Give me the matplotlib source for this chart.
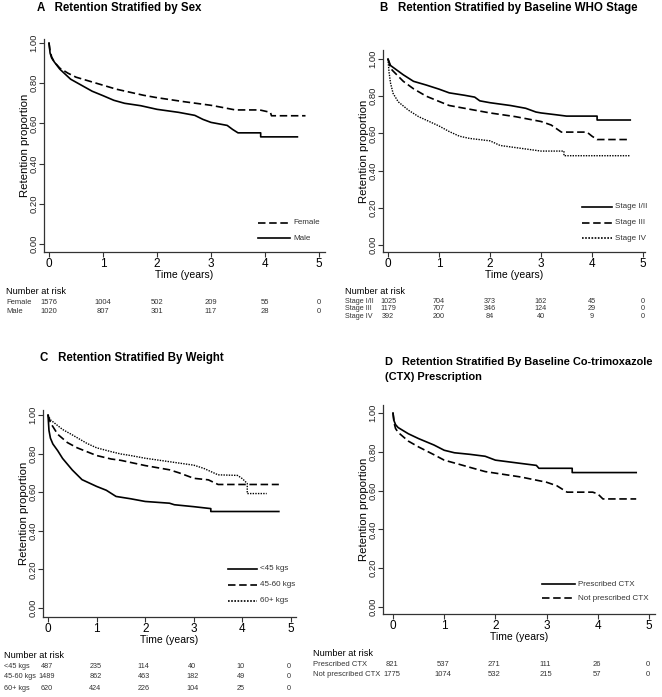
import matplotlib
matplotlib.use("Agg")
import matplotlib.pyplot as plt
import logging

logging.getLogger("matplotlib.font_manager").setLevel(logging.ERROR)

W, H = 662, 697

SMALL_FONT = ["Liberation Sans Narrow", "Liberation Sans", "DejaVu Sans"]
BOLD_FONT = ["Liberation Sans", "DejaVu Sans"]

# ── Data ──────────────────────────────────────────────────────────────
years = [0, 1, 2, 3, 4, 5]
yticks = [0.0, 0.2, 0.4, 0.6, 0.8, 1.0]

# A: sex
female_t = [0, 0.02, 0.05, 0.1, 0.2, 0.35, 0.5, 0.75, 1.0, 1.25, 1.5, 1.75, 2.0, 2.5, 3.0, 3.2, 3.45, 3.9, 4.1, 4.12, 4.75]
female_s = [1.0, 0.96, 0.93, 0.905, 0.875, 0.85, 0.83, 0.81, 0.79, 0.77, 0.755, 0.74, 0.728, 0.708, 0.69, 0.68, 0.667, 0.667, 0.655, 0.638, 0.638]
male_t = [0, 0.02, 0.05, 0.1, 0.2, 0.3, 0.4, 0.5, 0.6, 0.8, 1.0, 1.2, 1.4, 1.7, 2.0, 2.4, 2.7, 2.85, 3.0, 3.3, 3.4, 3.5, 3.92, 3.92, 4.6]
male_s = [1.0, 0.95, 0.925, 0.905, 0.87, 0.845, 0.82, 0.805, 0.79, 0.76, 0.738, 0.715, 0.70, 0.688, 0.67, 0.655, 0.64, 0.62, 0.605, 0.59, 0.57, 0.553, 0.553, 0.533, 0.533]
sex_risk_labels = ["Female", "Male"]
sex_risk = [[1576, 1004, 502, 209, 55, 0],
            [1020, 807, 301, 117, 28, 0]]

# B: WHO stage
st12_t = [0, 0.05, 0.1, 0.3, 0.5, 0.75, 1.0, 1.2, 1.5, 1.7, 1.8, 2.0, 2.4, 2.7, 2.9, 3.0, 3.3, 3.5, 4.1, 4.1, 4.75]
st12_s = [1.0, 0.965, 0.955, 0.915, 0.88, 0.86, 0.838, 0.818, 0.805, 0.795, 0.775, 0.765, 0.75, 0.735, 0.715, 0.71, 0.70, 0.693, 0.693, 0.672, 0.672]
st3_t = [0, 0.05, 0.1, 0.3, 0.5, 0.75, 1.0, 1.2, 1.5, 2.0, 2.5, 3.0, 3.2, 3.4, 3.9, 4.0, 4.1, 4.7]
st3_s = [1.0, 0.95, 0.935, 0.88, 0.84, 0.80, 0.772, 0.75, 0.735, 0.71, 0.69, 0.664, 0.645, 0.607, 0.607, 0.585, 0.567, 0.567]
st4_t = [0, 0.02, 0.05, 0.1, 0.2, 0.4, 0.6, 0.8, 1.0, 1.2, 1.4, 1.6, 2.0, 2.2, 2.6, 3.0, 3.45, 3.45, 4.75]
st4_s = [1.0, 0.93, 0.87, 0.815, 0.77, 0.725, 0.69, 0.665, 0.64, 0.61, 0.585, 0.573, 0.56, 0.535, 0.52, 0.505, 0.505, 0.48, 0.48]
stage_risk_labels = ["Stage I/II", "Stage III", "Stage IV"]
stage_risk = [[1025, 704, 373, 162, 45, 0],
              [1179, 707, 346, 124, 29, 0],
              [392, 200, 84, 40, 9, 0]]

# C: weight
w45_t = [0, 0.02, 0.05, 0.1, 0.2, 0.3, 0.5, 0.7, 1.0, 1.2, 1.4, 1.7, 2.0, 2.5, 2.6, 3.0, 3.35, 3.35, 4.75]
w45_s = [1.0, 0.92, 0.88, 0.85, 0.815, 0.775, 0.715, 0.665, 0.63, 0.61, 0.578, 0.566, 0.552, 0.543, 0.535, 0.525, 0.515, 0.50, 0.50]
w4560_t = [0, 0.05, 0.1, 0.2, 0.4, 0.6, 0.8, 1.0, 1.3, 1.5, 2.0, 2.5, 2.7, 3.0, 3.3, 3.5, 4.75]
w4560_s = [1.0, 0.96, 0.94, 0.90, 0.857, 0.83, 0.81, 0.79, 0.772, 0.765, 0.738, 0.716, 0.70, 0.672, 0.664, 0.64, 0.64]
w60_t = [0, 0.05, 0.1, 0.3, 0.5, 0.8, 1.0, 1.3, 1.5, 1.7, 2.0, 2.5, 3.0, 3.2, 3.5, 3.9, 4.0, 4.1, 4.1, 4.5]
w60_s = [1.0, 0.975, 0.965, 0.925, 0.897, 0.853, 0.83, 0.81, 0.798, 0.79, 0.776, 0.758, 0.74, 0.724, 0.69, 0.687, 0.67, 0.645, 0.593, 0.593]
weight_risk_labels = ["<45 kgs", "45-60 kgs", "60+ kgs"]
weight_risk = [[487, 235, 114, 40, 10, 0],
               [1489, 862, 463, 182, 49, 0],
               [620, 424, 226, 104, 25, 0]]

# D: CTX
ctx_t = [0, 0.02, 0.05, 0.1, 0.3, 0.5, 0.8, 1.0, 1.2, 1.5, 1.8, 2.0, 2.5, 2.8, 2.85, 3.5, 3.5, 4.75]
ctx_s = [1.0, 0.96, 0.94, 0.925, 0.893, 0.868, 0.835, 0.808, 0.795, 0.787, 0.777, 0.757, 0.74, 0.73, 0.715, 0.715, 0.693, 0.693]
noctx_t = [0, 0.02, 0.05, 0.1, 0.3, 0.5, 0.8, 1.0, 1.3, 1.5, 1.8, 2.0, 2.5, 3.0, 3.2, 3.4, 3.9, 4.0, 4.1, 4.75]
noctx_s = [1.0, 0.95, 0.92, 0.90, 0.855, 0.825, 0.785, 0.757, 0.735, 0.72, 0.698, 0.69, 0.67, 0.643, 0.625, 0.592, 0.592, 0.583, 0.557, 0.557]
ctx_risk_labels = ["Prescribed CTX", "Not prescribed CTX"]
ctx_risk = [[821, 537, 271, 111, 26, 0],
            [1775, 1074, 532, 215, 57, 0]]

SOLID = "-"
DASH = (0, (4.5, 2.2))
DOT = (0, (1.0, 0.9))
INK = "#333333"

fig = plt.figure(figsize=(W / 100, H / 100), dpi=100)
fig.patch.set_facecolor("white")


def px(x, y):
    return x / W, 1 - y / H


def make_axes(l, r, t, b, x0, x5, y1, y0):
    ax = fig.add_axes([l / W, 1 - b / H, (r - l) / W, (b - t) / H])
    ppx = (x5 - x0) / 5.0
    ppy = (y0 - y1)
    ax.set_xlim((l - x0) / ppx, (r - x0) / ppx)
    ax.set_ylim(-(b - y0) / ppy, 1 + (y1 - t) / ppy)
    for s in ("top", "right"):
        ax.spines[s].set_visible(False)
    for s in ("left", "bottom"):
        ax.spines[s].set_color(INK)
        ax.spines[s].set_linewidth(0.9)
    ax.set_xticks(years)
    ax.set_yticks(yticks)
    ax.set_yticklabels([f"{v:.2f}" for v in yticks], rotation=90, va="center",
                       fontsize=6.8, family=BOLD_FONT, color="#222222")
    ax.set_xticklabels([str(v) for v in years], fontsize=8.5, family=SMALL_FONT)
    ax.tick_params(direction="out", length=3.5, width=0.8, color=INK)
    ax.tick_params(axis="x", pad=0.5)
    ax.tick_params(axis="y", pad=0.3)
    ax.set_xlabel("Time (years)", fontsize=7.5, family=SMALL_FONT, labelpad=0)
    ax.set_ylabel("Retention proportion", fontsize=8.2, family=BOLD_FONT, labelpad=0)
    return ax


def legend(ax_items, x1, x2, ys):
    for (label, ls), y in zip(ax_items, ys):
        fig.add_artist(plt.Line2D([x1 / W, x2 / W], [1 - y / H, 1 - y / H],
                                  color="black", lw=1.2, linestyle=ls))
        fig.text((x2 + 3) / W, 1 - y / H, label, fontsize=5.8, family=SMALL_FONT,
                 color=INK, va="center", ha="left")


def risk_table(title_xy, labels, rows, ys, x0, x5, fs=5.5):
    fig.text(*px(*title_xy), "Number at risk", fontsize=6.6, family=SMALL_FONT,
             va="center", ha="left")
    step = (x5 - x0) / 5.0
    for lab, row, y in zip(labels, rows, ys):
        fig.text(*px(title_xy[0], y), lab, fontsize=fs, family=SMALL_FONT,
                 color=INK, va="center", ha="left")
        for i, n in enumerate(row):
            fig.text(*px(x0 + i * step, y), str(n), fontsize=fs, family=SMALL_FONT,
                     color=INK, va="center", ha="center")


def title(x, y, s, fs=8.3):
    fig.text(*px(x, y), s, fontsize=fs, family=BOLD_FONT, fontweight="bold",
             va="center", ha="left")


# ── Panel A ──
axA = make_axes(44, 325, 39, 252, 49, 319, 43, 244)
axA.plot(female_t, female_s, color="black", lw=1.2, linestyle=DASH)
axA.plot(male_t, male_s, color="black", lw=1.2, linestyle=SOLID)
title(37, 8, "A   Retention Stratified by Sex")
legend([("Female", DASH), ("Male", SOLID)], 258, 290, [223, 238])
risk_table((6, 292), sex_risk_labels, sex_risk, [302.5, 311.5], 49, 319)

# ── Panel B ──
axB = make_axes(383, 645, 50, 252, 388, 643, 59, 245)
axB.plot(st12_t, st12_s, color="black", lw=1.2, linestyle=SOLID)
axB.plot(st3_t, st3_s, color="black", lw=1.2, linestyle=DASH)
axB.plot(st4_t, st4_s, color="black", lw=1.0, linestyle=DOT)
title(380, 8, "B   Retention Stratified by Baseline WHO Stage")
legend([("Stage I/II", SOLID), ("Stage III", DASH), ("Stage IV", DOT)], 582, 612, [207, 223, 238])
risk_table((345, 291.5), stage_risk_labels, stage_risk, [301.5, 309, 316.5], 388, 643, fs=5.2)

# ── Panel C ──
axC = make_axes(43, 296, 410, 617, 48, 291, 415, 608)
axC.plot(w45_t, w45_s, color="black", lw=1.2, linestyle=SOLID)
axC.plot(w4560_t, w4560_s, color="black", lw=1.2, linestyle=DASH)
axC.plot(w60_t, w60_s, color="black", lw=1.0, linestyle=DOT)
title(40, 358, "C   Retention Stratified By Weight")
legend([("<45 kgs", SOLID), ("45-60 kgs", DASH), ("60+ kgs", DOT)], 228, 257, [569, 585, 601])
risk_table((4, 655), weight_risk_labels, weight_risk, [666, 677, 688], 47, 289, fs=5.2)

# ── Panel D ──
axD = make_axes(383, 655, 405, 614, 393, 649, 413, 607)
axD.plot(ctx_t, ctx_s, color="black", lw=1.2, linestyle=SOLID)
axD.plot(noctx_t, noctx_s, color="black", lw=1.2, linestyle=DASH)
title(385, 362, "D   Retention Stratified By Baseline Co-trimoxazole", fs=7.9)
title(385, 377, "(CTX) Prescription", fs=7.9)
legend([("Prescribed CTX", SOLID), ("Not prescribed CTX", DASH)], 542, 575, [584, 598])
risk_table((313, 653), ctx_risk_labels, ctx_risk, [664, 674], 392, 648)

fig.savefig("out.png", dpi=100, facecolor="white")
